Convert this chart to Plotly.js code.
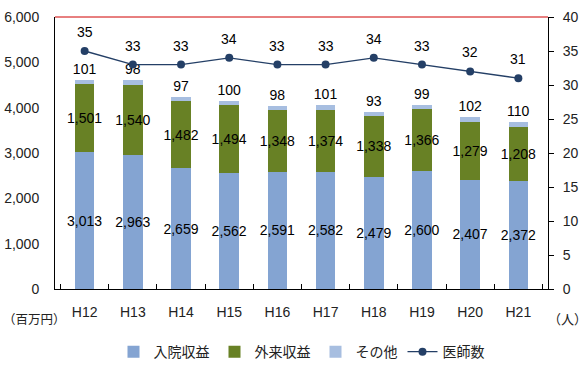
<!DOCTYPE html>
<html><head><meta charset="utf-8">
<script src="https://cdn.plot.ly/plotly-3.0.1.min.js"></script>
<style>html,body{margin:0;padding:0;background:#fff}#chart{width:587px;height:367px}</style>
</head><body><div id="chart"></div>
<script>
const categories = ['H12','H13','H14','H15','H16','H17','H18','H19','H20','H21'];
const inpatient = [3013,2963,2659,2562,2591,2582,2479,2600,2407,2372];
const outpatient = [1501,1540,1482,1494,1348,1374,1338,1366,1279,1208];
const other = [101,98,97,100,98,101,93,99,102,110];
const doctors = [35,33,33,34,33,33,34,33,32,31];
const seriesNames = ['入院収益','外来収益','その他','医師数'];

const FONT = 'Liberation Sans, Arial, Noto Sans CJK JP, sans-serif';
const fmt = v => v.toLocaleString('en-US');

const traces = [
  {type:'bar', name:seriesNames[0], x:categories, y:inpatient, marker:{color:'#84A4D2'},
   text:inpatient.map(fmt), textposition:'inside', insidetextanchor:'middle', textangle:0,
   constraintext:'none', textfont:{color:'#000', size:14, family:FONT}, hoverinfo:'none'},
  {type:'bar', name:seriesNames[1], x:categories, y:outpatient, marker:{color:'#688125'},
   text:outpatient.map(fmt), textposition:'inside', insidetextanchor:'middle', textangle:0,
   constraintext:'none', textfont:{color:'#000', size:14, family:FONT}, hoverinfo:'none'},
  {type:'bar', name:seriesNames[2], x:categories, y:other, marker:{color:'#A7BEE0'},
   text:other.map(fmt), textposition:'outside', textangle:0, cliponaxis:false,
   constraintext:'none', textfont:{color:'#000', size:14, family:FONT}, hoverinfo:'none'},
  {type:'scatter', mode:'lines+markers', name:seriesNames[3], x:categories, y:doctors, yaxis:'y2',
   line:{color:'#243F66', width:1.3}, marker:{color:'#243F66', size:8},
   cliponaxis:false, hoverinfo:'none'}
];

const lineLabels = categories.map((c, i) => ({
  x:c, y:doctors[i], xref:'x', yref:'y2', text:String(doctors[i]), showarrow:false,
  yshift:19, font:{size:14, family:FONT, color:'#000'}
}));

const layout = {
  width:587, height:367,
  margin:{l:55, r:39, t:17, b:78, pad:0, autoexpand:false},
  paper_bgcolor:'#fff', plot_bgcolor:'#fff',
  font:{family:FONT, size:14, color:'#222'},
  barmode:'stack', bargap:0.594,
  showlegend:true,
  legend:{orientation:'h', x:0.5, xanchor:'center', y:-0.232, yanchor:'middle',
          font:{size:14, family:FONT, color:'#222'}, itemwidth:30, traceorder:'normal'},
  xaxis:{type:'category', showline:true, linecolor:'#000', linewidth:1,
         ticks:'inside', ticklen:5, tickcolor:'#000', tickson:'boundaries',
         ticklabelstandoff:10, showgrid:false, zeroline:false, automargin:false,
         tickfont:{size:14, color:'#222'}},
  yaxis:{range:[0,6000], tickvals:[0,1000,2000,3000,4000,5000,6000],
         ticktext:[0,1000,2000,3000,4000,5000,6000].map(fmt), automargin:false,
         showline:true, linecolor:'#000', linewidth:1, ticks:'', showgrid:false, zeroline:false,
         ticklabelstandoff:12, tickfont:{size:14, color:'#222'}},
  yaxis2:{range:[0,40], dtick:5, overlaying:'y', side:'right', showline:true, linecolor:'#000',
          linewidth:1, ticks:'outside', ticklen:5, tickcolor:'#000', showgrid:false, zeroline:false,
          ticklabelstandoff:6, automargin:false, tickfont:{size:14, color:'#222'}},
  shapes:[{type:'line', xref:'paper', yref:'paper', x0:0, x1:1, y0:1, y1:1,
           line:{color:'#D00000', width:1}}],
  annotations:lineLabels.concat([
    {text:'（百万円）', xref:'paper', yref:'paper', x:-0.109, y:-0.108, xanchor:'left', yanchor:'middle',
     showarrow:false, font:{size:12.5, family:'Noto Sans CJK JP', color:'#222'}},
    {text:'（人）', xref:'paper', yref:'paper', x:0.995, y:-0.108, xanchor:'left', yanchor:'middle',
     showarrow:false, font:{size:13, family:'Noto Sans CJK JP', color:'#222'}}
  ])
};

Plotly.newPlot('chart', traces, layout, {displayModeBar:false, staticPlot:true});
</script></body></html>
